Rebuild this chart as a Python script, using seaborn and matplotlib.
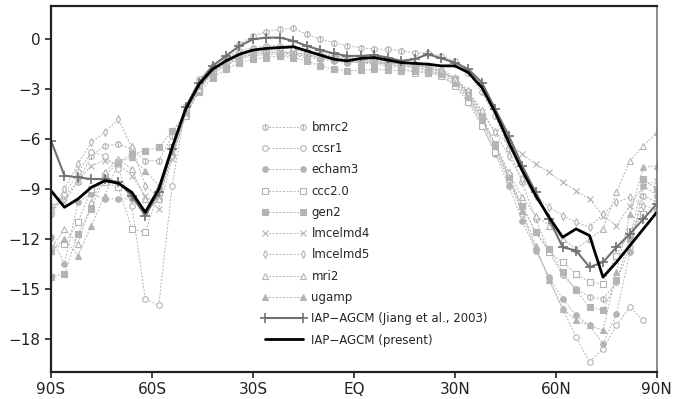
import numpy as np
import matplotlib
matplotlib.use("Agg")
import matplotlib.pyplot as plt
from matplotlib.path import Path
import seaborn as sns

sns.set_style("ticks")
plt.rcParams["font.family"] = ["DejaVu Sans"]

# latitude grid (4 deg)
lat = [-90, -86, -82, -78, -74, -70, -66, -62, -58, -54, -50, -46,
       -42, -38, -34, -30, -26, -22, -18, -14, -10, -6, -2,
       2, 6, 10, 14, 18, 22, 26, 30, 34, 38, 42,
       46, 50, 54, 58, 62, 66, 70, 74, 78, 82, 86, 90]

bmrc2 = [-10.5, -9.4, -8.6, -7.0, -6.4, -6.3, -6.6, -7.3, -7.3, -5.8, -4.3, -2.8,
         -1.9, -1.1, -0.3, 0.2, 0.45, 0.6, 0.65, 0.3, 0.0, -0.2, -0.4,
         -0.5, -0.6, -0.6, -0.7, -0.8, -0.85, -1.0, -1.3, -2.0, -3.2, -4.6,
         -6.6, -8.6, -10.8, -12.8, -14.2, -15.0, -15.5, -15.6, -14.6, -12.5, -9.4, -9.8]
ccsr1 = [-10.3, -9.3, -8.0, -6.8, -7.0, -7.8, -10.0, -15.6, -16.0, -8.8, -4.0, -2.4,
         -1.6, -1.1, -0.7, -0.5, -0.4, -0.4, -0.5, -0.7, -0.9, -1.0, -1.1,
         -1.2, -1.3, -1.3, -1.4, -1.5, -1.7, -2.0, -2.5, -3.4, -4.9, -6.6,
         -8.4, -10.5, -12.6, -14.4, -16.2, -17.9, -19.4, -18.6, -17.2, -16.1, -16.9]
echam3 = [-11.9, -13.5, -9.8, -9.3, -9.6, -9.6, -9.6, -10.4, -9.6, -7.0, -4.5, -2.9,
          -2.1, -1.6, -1.2, -1.0, -0.9, -0.9, -1.0, -1.1, -1.2, -1.3, -1.4,
          -1.4, -1.4, -1.5, -1.6, -1.7, -1.9, -2.2, -2.7, -3.6, -5.1, -6.9,
          -8.8, -10.9, -12.7, -14.3, -15.6, -16.6, -17.2, -18.3, -16.5, -12.8, -8.8, -9.4]
ccc20 = [-12.6, -12.3, -11.0, -9.0, -8.6, -8.9, -11.4, -11.6, -9.2, -6.5, -4.4, -2.9,
         -1.9, -1.4, -1.1, -0.9, -0.8, -0.8, -0.8, -0.9, -1.1, -1.2, -1.3,
         -1.4, -1.5, -1.6, -1.7, -2.0, -2.0, -2.2, -2.8, -3.8, -5.2, -6.8,
         -8.4, -10.0, -11.6, -12.8, -13.4, -14.1, -14.6, -14.7, -13.0, -11.5, -10.5, -10.3]
gen2 = [-14.3, -14.1, -11.7, -10.2, -8.2, -7.4, -6.9, -6.7, -6.5, -5.5, -4.5, -3.2,
        -2.3, -1.8, -1.4, -1.2, -1.1, -1.0, -1.1, -1.3, -1.6, -1.8, -1.9,
        -1.85, -1.8, -1.85, -1.9, -1.9, -1.95, -2.0, -2.4, -3.2, -4.6, -6.3,
        -8.2, -10.0, -11.6, -12.6, -14.0, -15.1, -16.1, -16.3, -14.5, -12.0, -8.4, -9.0]
lmcelmd4 = [-10.0, -9.8, -8.5, -7.6, -7.3, -7.5, -8.2, -9.4, -10.2, -7.2, -4.6, -3.0,
            -2.0, -1.4, -1.0, -0.8, -0.7, -0.7, -0.8, -0.9, -1.0, -1.1, -1.2,
            -1.3, -1.3, -1.4, -1.5, -1.6, -1.7, -1.9, -2.4, -3.2, -4.4, -5.6,
            -6.3, -6.9, -7.5, -8.0, -8.6, -9.1, -9.6, -10.6, -11.2, -10.0, -8.8, -8.5]
lmcelmd5 = [-10.5, -9.0, -7.5, -6.2, -5.6, -4.8, -6.5, -8.8, -9.5, -7.0, -4.4, -2.8,
            -1.8, -1.2, -0.8, -0.6, -0.5, -0.5, -0.6, -0.8, -0.9, -1.0, -1.1,
            -1.2, -1.2, -1.3, -1.4, -1.5, -1.6, -1.8, -2.3, -3.1, -4.3, -5.6,
            -7.0, -8.4, -9.4, -10.1, -10.6, -11.0, -11.3, -10.5, -9.8, -9.5, -10.0, -10.2]
mri2 = [-12.6, -11.4, -12.3, -9.8, -8.0, -7.2, -7.8, -9.6, -9.6, -6.8, -4.6, -3.0,
        -2.0, -1.5, -1.1, -0.9, -0.8, -0.8, -0.9, -1.0, -1.1, -1.2, -1.3,
        -1.3, -1.4, -1.4, -1.5, -1.6, -1.7, -1.9, -2.4, -3.3, -4.7, -6.3,
        -8.0, -9.5, -10.6, -11.2, -12.0, -12.6, -12.0, -11.4, -9.2, -7.3, -6.4, -5.6]
ugamp = [-12.7, -12.0, -13.0, -11.2, -9.4, -7.4, -7.1, -7.9, -8.8, -6.8, -4.4, -2.8,
         -2.0, -1.5, -1.1, -0.9, -0.8, -0.8, -0.9, -1.0, -1.1, -1.2, -1.3,
         -1.4, -1.4, -1.5, -1.6, -1.7, -1.8, -2.1, -2.6, -3.5, -4.8, -6.4,
         -8.3, -10.3, -12.4, -14.5, -16.2, -16.9, -17.2, -17.5, -14.0, -10.5, -7.7, -7.6]
iap_jiang = [-6.1, -8.2, -8.3, -8.4, -8.4, -8.6, -9.4, -10.6, -9.2, -6.6, -4.1, -2.6,
             -1.6, -1.0, -0.4, 0.0, 0.1, 0.1, -0.1, -0.4, -0.65, -0.85, -1.0,
             -1.0, -0.95, -1.1, -1.3, -1.2, -0.9, -1.15, -1.4, -1.8, -2.6, -4.2,
             -5.8, -7.6, -9.2, -10.8, -12.5, -12.7, -13.7, -13.4, -12.5, -11.7, -10.8, -9.9]
iap_present = [-9.1, -10.1, -9.6, -8.9, -8.5, -8.65, -9.2, -10.4, -9.0, -6.5, -4.2, -2.7,
               -1.8, -1.3, -0.9, -0.65, -0.55, -0.5, -0.45, -0.7, -0.95, -1.2, -1.3,
               -1.15, -1.1, -1.25, -1.4, -1.45, -1.5, -1.6, -1.6, -2.0, -2.9, -4.4,
               -6.2, -7.9, -9.4, -10.7, -11.9, -11.4, -11.8, -14.3, -13.4, -12.4, -11.4, -10.4]

xticks = [-90, -60, -30, 0, 30, 60, 90]
xticklabels = ["90S", "60S", "30S", "EQ", "30N", "60N", "90N"]
yticks = [0, -3, -6, -9, -12, -15, -18]

# circle with a vertical bar marker (bmrc2)
circ_bar = Path.make_compound_path(Path.unit_circle(), Path([[0, -1], [0, 1]]))

gray = "#b4b4b4"
models = [
    ("bmrc2", bmrc2, circ_bar, "white"),
    ("ccsr1", ccsr1, "o", "white"),
    ("echam3", echam3, "o", gray),
    ("ccc2.0", ccc20, "s", "white"),
    ("gen2", gen2, "s", gray),
    ("lmcelmd4", lmcelmd4, "x", gray),
    ("lmcelmd5", lmcelmd5, "d", "white"),
    ("mri2", mri2, "^", "white"),
    ("ugamp", ugamp, "^", gray),
]

fig, ax = plt.subplots(figsize=(6.73, 3.99), dpi=100)
fig.subplots_adjust(left=0.0758, right=0.976, bottom=0.0677, top=0.985)

for name, vals, mk, fc in models:
    sns.lineplot(x=lat[:len(vals)], y=vals, ax=ax, color=gray, lw=0.7,
                 linestyle=(0, (2, 1.6)), marker=mk, markersize=4,
                 markerfacecolor=fc, markeredgecolor=gray, markeredgewidth=0.8,
                 label=name)

sns.lineplot(x=lat, y=iap_jiang, ax=ax, color="#707070", lw=1.5, marker="+",
             markersize=7, markeredgewidth=1.2, markeredgecolor="#707070",
             label="IAP\u2212AGCM (Jiang et al., 2003)")
sns.lineplot(x=lat, y=iap_present, ax=ax, color="black", lw=2.0,
             label="IAP\u2212AGCM (present)")

ax.set_xlim(-90, 90)
ax.set_ylim(-20, 2)
ax.set_xticks(xticks)
ax.set_xticklabels(xticklabels)
ax.set_yticks(yticks)
ax.set_xlabel("")
ax.set_ylabel("")
ax.tick_params(labelsize=11, length=4, width=1.2, colors="#222222")
for s in ax.spines.values():
    s.set_linewidth(1.6)
    s.set_color("#222222")
ax.spines["right"].set_color("#777777")
ax.spines["right"].set_linewidth(1.2)

leg = ax.legend(loc="upper left", bbox_to_anchor=(0.347, 0.686), frameon=False,
                fontsize=8.5, numpoints=2, handlelength=3.8, handletextpad=0.45,
                labelspacing=0.7, borderpad=0, borderaxespad=0)

fig.savefig("out.png", dpi=100)
